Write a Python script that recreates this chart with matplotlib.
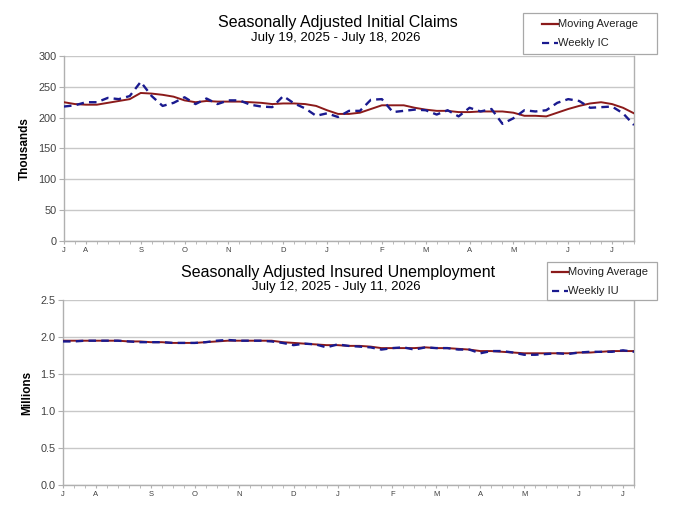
import matplotlib
matplotlib.use("Agg")
import matplotlib.pyplot as plt
from matplotlib.lines import Line2D
from matplotlib.patches import Rectangle
import numpy as np

plt.rcParams['font.family'] = ['Liberation Sans', 'DejaVu Sans']

# ---- Initial claims (thousands), weeks Jul 19 2025 .. Jul 18 2026
ic_weekly = [218, 220, 225, 225, 232, 230, 235, 258, 235, 219,
             224, 233, 222, 231, 222, 228, 228, 221, 218, 217,
             235, 223, 215, 203, 207, 201, 211, 211, 229, 230,
             209, 211, 213, 212, 205, 212, 202, 216, 210, 214,
             190, 199, 212, 210, 212, 224, 230, 227, 216, 217,
             218, 207, 188]
ic_ma = [225, 222, 221, 221, 224, 227, 230, 240, 239, 237,
         234, 228, 225, 227, 226, 226, 226, 225, 224, 222,
         223, 223, 222, 219, 212, 206, 206, 208, 214, 220,
         220, 220, 216, 213, 211, 211, 209, 209, 210, 210,
         210, 208, 203, 203, 202, 208, 214, 219, 223, 225,
         222, 216, 207]
ic_month_idx = [0, 2, 7, 11, 15, 20, 24, 29, 33, 37, 41, 46, 50]

# ---- Insured unemployment (millions), weeks Jul 12 2025 .. Jul 11 2026
iu_weekly = [1.94, 1.94, 1.95, 1.95, 1.95, 1.95, 1.94, 1.93, 1.93, 1.93,
             1.92, 1.92, 1.92, 1.93, 1.95, 1.96, 1.95, 1.95, 1.95, 1.94,
             1.92, 1.89, 1.91, 1.90, 1.86, 1.90, 1.88, 1.87, 1.86, 1.83,
             1.85, 1.86, 1.83, 1.86, 1.85, 1.85, 1.83, 1.83, 1.78, 1.81,
             1.81, 1.79, 1.76, 1.76, 1.77, 1.78, 1.77, 1.79, 1.80, 1.80,
             1.80, 1.82, 1.80]
iu_ma = [1.95, 1.95, 1.95, 1.95, 1.95, 1.95, 1.94, 1.94, 1.93, 1.93,
         1.92, 1.92, 1.92, 1.93, 1.94, 1.95, 1.95, 1.95, 1.95, 1.95,
         1.93, 1.92, 1.91, 1.90, 1.89, 1.89, 1.88, 1.88, 1.87, 1.85,
         1.85, 1.85, 1.85, 1.86, 1.85, 1.85, 1.84, 1.83, 1.81, 1.81,
         1.80, 1.79, 1.78, 1.78, 1.78, 1.78, 1.78, 1.79, 1.79, 1.80,
         1.81, 1.81, 1.81]
iu_month_idx = [0, 3, 8, 12, 16, 21, 25, 30, 34, 38, 42, 47, 51]

month_labels = ['J', 'A', 'S', 'O', 'N', 'D', 'J', 'F', 'M', 'A', 'M', 'J', 'J']

MA_COLOR = '#8b1a1a'
WK_COLOR = '#1a1a8f'
WK_DASH = (0, (3.2, 2.2))
GRID = '#c8c8c8'
SPINE = '#b0b0b0'
TXT = '#404040'

W, H = 682, 524


def px(x, y):
    # pixel position (from top-left) -> figure fraction
    return x / W, 1 - y / H


def draw_legend(fig, box, rows, handle_x, wk_label):
    x0, y0, x1, y1 = box
    fx, fy = px(x0, y1)
    fig.add_artist(Rectangle((fx, fy), (x1 - x0) / W, (y1 - y0) / H,
                             transform=fig.transFigure, fill=True, facecolor='white',
                             edgecolor='#a8a8a8', lw=0.9, zorder=10))
    entries = [('Moving Average', MA_COLOR, '-'), (wk_label, WK_COLOR, WK_DASH)]
    for (label, col, ls), ry in zip(entries, rows):
        ha, va = px(handle_x, ry)
        hb, _ = px(handle_x + 16, ry)
        fig.add_artist(Line2D([ha, hb], [va, va], transform=fig.transFigure,
                              color=col, lw=1.6, ls=ls, zorder=11))
        fig.text(hb + 0.5 / W, va, label, ha='left', va='center', fontsize=8,
                 color='#222222', zorder=12)


def draw_panel(ax, weekly, ma, month_idx, yticks, yfmt, ylabel, title, subtitle,
               title_y, sub_y):
    x = np.arange(len(weekly))
    ax.plot(x, ma, color=MA_COLOR, lw=1.4, zorder=3)
    ax.plot(x, weekly, color=WK_COLOR, lw=1.7, ls=WK_DASH, zorder=4)
    ax.set_xlim(0, len(weekly) - 1)
    ax.set_ylim(yticks[0], yticks[-1])
    ax.set_yticks(yticks)
    ax.set_yticklabels([yfmt.format(v) for v in yticks], fontsize=7.8, color=TXT)
    ax.grid(axis='y', color=GRID, lw=1.0)
    ax.set_axisbelow(True)
    ax.set_xticks(month_idx)
    ax.set_xticklabels(month_labels, fontsize=5.5, color=TXT)
    ax.set_xticks(x, minor=True)
    ax.tick_params(axis='x', which='both', length=2.5, color=SPINE, pad=2)
    ax.tick_params(axis='y', length=3.5, color=SPINE, pad=2)
    for s in ['left', 'bottom', 'right']:
        ax.spines[s].set_color(SPINE)
        ax.spines[s].set_linewidth(1.0)
    ax.spines['top'].set_visible(False)
    ax.set_ylabel(ylabel, fontsize=8.5, fontweight='bold', labelpad=5)
    fig = ax.figure
    fig.text(0.495, 1 - title_y / H, title, ha='center', va='center', fontsize=11.5)
    fig.text(0.493, 1 - sub_y / H, subtitle, ha='center', va='center', fontsize=9.5)


fig = plt.figure(figsize=(W / 100, H / 100), dpi=100)
ax1 = fig.add_axes([0.0938, 0.5401, 0.8358, 0.3531])
ax2 = fig.add_axes([0.0924, 0.0744, 0.8372, 0.3531])

draw_panel(ax1, ic_weekly, ic_ma, ic_month_idx, [0, 50, 100, 150, 200, 250, 300], '{:d}',
           'Thousands', 'Seasonally Adjusted Initial Claims', 'July 19, 2025 - July 18, 2026',
           23, 38)
draw_panel(ax2, iu_weekly, iu_ma, iu_month_idx, [0.0, 0.5, 1.0, 1.5, 2.0, 2.5], '{:.1f}',
           'Millions', 'Seasonally Adjusted Insured Unemployment', 'July 12, 2025 - July 11, 2026',
           273, 287)

draw_legend(fig, (523, 13, 657, 54), (24, 43), 542, 'Weekly IC')
draw_legend(fig, (547, 262, 657, 300), (272, 291), 552, 'Weekly IU')

fig.savefig('out.png', dpi=100)
